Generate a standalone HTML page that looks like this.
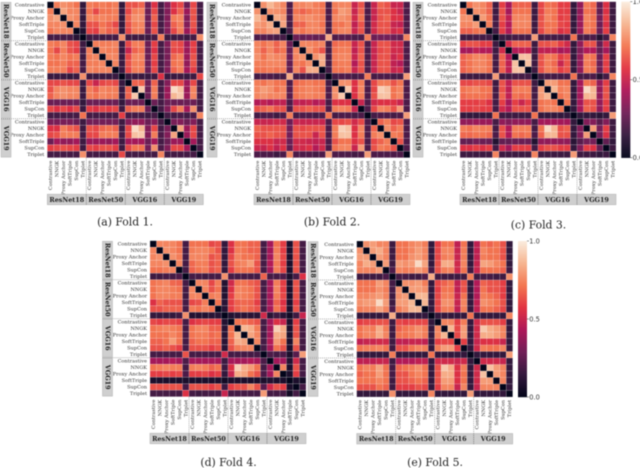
<!DOCTYPE html>
<html>
<head>
<meta charset="utf-8">
<style>
html,body{margin:0;padding:0;background:#fff;width:640px;height:468px;overflow:hidden}
svg{display:block;filter:blur(.4px)}
text{font-family:"DejaVu Serif","Liberation Serif",serif}
</style>
</head>
<body>
<svg id="chart" width="640" height="468" viewBox="0 0 640 468" xmlns="http://www.w3.org/2000/svg"></svg>
<script>
const lossNames = ["Contrastive","NNGK","Proxy Anchor","SoftTriple","SupCon","Triplet"];
const modelNames = ["ResNet18","ResNet50","VGG16","VGG19"];
const captions = ["(a) Fold 1.","(b) Fold 2.","(c) Fold 3.","(d) Fold 4.","(e) Fold 5."];
const colorbarTicks = [0,0.5,1];

const fold1Values = [
[0,70,75,72,68,15,70,68,70,68,70,15,62,62,65,30,55,20,35,55,60,30,60,20],
[70,0,80,72,72,17,68,60,68,68,70,17,60,70,72,30,60,20,35,55,65,40,62,20],
[75,80,0,75,72,15,72,70,72,70,70,15,65,75,75,30,65,20,35,70,72,35,62,20],
[72,72,75,0,72,15,62,62,68,65,60,15,62,70,72,30,60,20,35,65,70,35,62,20],
[68,72,72,72,0,10,60,58,70,65,65,15,60,70,70,30,62,20,35,60,70,40,58,20],
[20,20,20,20,12,0,18,20,18,20,20,75,18,18,18,18,20,70,18,18,20,18,20,75],
[70,68,72,62,60,18,0,70,70,70,72,17,60,70,70,30,58,20,35,62,60,40,58,20],
[68,60,70,62,58,20,70,0,72,70,70,17,50,65,68,30,55,20,33,60,60,40,58,20],
[70,68,72,68,70,18,70,72,0,72,72,17,60,72,72,30,60,20,33,66,70,40,62,20],
[68,68,70,65,65,20,70,70,72,0,72,17,62,70,70,30,58,20,33,68,70,38,62,20],
[70,70,70,60,65,20,72,70,72,72,0,17,60,70,70,30,60,20,35,65,70,42,58,20],
[17,17,17,15,17,75,17,17,17,17,17,0,17,17,17,17,18,55,17,17,18,17,18,60],
[60,60,62,60,60,17,60,50,60,62,60,17,0,65,65,30,65,20,35,60,60,40,60,20],
[62,72,75,72,72,17,70,65,72,70,70,17,65,0,90,30,70,20,40,95,88,40,72,20],
[65,72,75,72,72,17,70,68,72,70,70,17,65,90,0,30,70,20,40,85,90,40,72,20],
[30,30,30,30,30,15,30,30,30,30,30,15,30,30,30,0,30,20,30,30,30,30,30,20],
[60,55,60,55,60,17,58,55,60,58,60,18,65,70,70,30,0,20,35,60,70,42,75,20],
[20,20,20,20,20,68,20,20,20,20,20,58,20,20,20,18,20,0,20,20,22,20,22,72],
[33,33,33,33,30,18,32,32,32,32,32,18,35,38,38,30,35,20,0,33,35,30,35,20],
[55,55,70,65,62,18,62,60,66,68,65,18,60,95,85,35,60,20,33,0,80,40,60,20],
[60,62,70,70,70,20,60,60,70,70,70,20,60,88,90,35,70,22,35,80,0,40,60,20],
[30,42,38,38,42,18,40,40,40,38,42,18,42,42,42,30,42,20,30,40,40,0,42,20],
[58,60,62,60,58,18,60,58,62,62,58,18,60,68,68,32,75,22,35,60,60,42,0,20],
[20,20,20,20,20,75,20,20,20,20,20,60,20,20,20,20,20,72,20,20,20,20,20,0]
];
const fold2Values = [
[0,75,85,78,72,22,72,72,75,70,68,20,70,72,72,50,62,22,50,65,62,50,50,22],
[75,0,75,75,72,24,68,65,68,70,68,22,68,78,75,50,65,22,50,62,62,55,50,22],
[85,75,0,82,78,22,72,72,75,72,70,22,72,75,72,52,68,22,50,62,65,55,55,22],
[78,75,82,0,80,20,65,65,72,72,68,20,68,68,72,48,62,22,52,62,62,50,48,22],
[72,72,78,80,0,20,72,68,72,72,70,20,68,72,72,50,62,22,52,62,62,52,55,22],
[22,24,22,20,20,0,30,28,30,28,28,82,22,25,25,22,22,70,30,32,32,30,28,72],
[72,68,72,65,72,30,0,72,72,70,72,20,66,68,68,50,62,22,50,62,62,52,52,22],
[72,65,72,65,68,28,72,0,75,68,62,20,68,70,70,48,62,22,50,60,62,52,52,22],
[75,68,75,72,72,30,72,75,0,75,82,20,70,72,72,50,65,22,50,62,62,50,55,22],
[70,70,72,72,72,28,70,68,75,0,82,20,68,70,70,45,62,22,50,62,62,48,45,22],
[68,68,70,68,70,28,72,62,82,82,0,20,68,68,70,50,62,22,50,62,62,50,52,22],
[20,22,22,20,20,82,20,20,20,20,20,0,20,22,22,20,22,70,20,22,22,20,20,78],
[70,68,72,68,68,22,66,68,70,68,68,20,0,75,75,55,70,22,60,70,70,62,68,22],
[72,78,75,68,72,25,68,70,72,70,68,22,75,0,90,55,72,22,60,92,88,68,72,22],
[72,75,72,72,72,25,68,70,72,70,70,22,75,90,0,55,70,22,62,88,88,68,72,22],
[45,48,45,48,48,22,48,48,50,45,48,20,55,55,55,0,50,22,52,55,55,55,50,22],
[62,65,68,62,62,22,62,62,65,62,62,22,70,72,70,50,0,22,60,72,70,62,78,22],
[20,22,22,18,22,70,20,22,22,20,22,68,20,22,22,20,22,0,20,22,22,20,22,78],
[50,50,50,52,52,30,50,50,50,50,50,22,60,60,62,52,60,22,0,65,70,60,62,22],
[65,62,62,62,62,32,62,60,62,62,62,22,70,92,88,55,72,22,65,0,75,65,70,22],
[62,62,65,62,62,32,62,62,62,50,62,22,70,88,88,55,70,22,70,75,0,70,68,22],
[55,55,55,50,52,30,52,52,50,48,50,22,62,68,68,55,62,22,60,65,70,0,62,22],
[50,50,55,48,55,28,52,52,55,45,52,22,68,72,72,50,78,22,62,70,68,62,0,22],
[22,22,22,18,22,72,22,22,22,20,22,78,22,22,22,20,22,78,22,22,22,22,22,0]
];
const fold3Values = [
[0,68,75,72,65,18,58,42,65,65,65,18,60,68,66,58,58,15,38,70,66,28,55,18],
[68,0,75,72,65,18,62,42,68,68,68,18,60,70,68,58,58,15,38,68,66,28,55,18],
[75,75,0,78,68,20,62,48,72,72,72,18,62,72,68,58,60,15,40,72,68,32,58,18],
[72,72,78,0,70,20,58,45,72,72,72,18,62,68,68,60,58,15,40,70,68,30,55,18],
[65,65,68,70,0,20,58,45,68,68,68,18,60,68,66,55,58,15,40,70,66,30,58,18],
[18,18,20,20,20,0,18,18,20,20,20,78,18,20,20,20,20,68,20,20,22,10,20,72],
[58,62,62,58,58,18,0,52,65,65,65,18,62,62,65,58,52,15,38,62,62,28,52,18],
[42,42,48,45,45,18,52,0,45,48,48,18,48,48,48,42,45,15,35,45,45,28,42,18],
[65,68,72,72,68,20,65,45,0,88,88,18,62,70,68,58,62,15,38,70,68,30,58,18],
[65,68,72,72,68,20,65,48,88,0,88,18,62,70,66,50,62,15,38,70,66,30,58,18],
[65,68,72,72,68,20,65,48,88,88,0,18,62,70,68,58,62,15,38,70,68,30,58,18],
[18,18,18,18,18,78,18,18,20,20,20,0,18,20,20,20,20,68,20,20,22,10,20,72],
[60,60,62,62,60,18,62,48,62,62,62,18,0,78,78,68,68,15,42,68,65,38,58,18],
[68,70,72,68,68,20,62,48,70,70,70,20,78,0,85,70,72,15,42,95,85,38,62,18],
[66,68,68,68,66,20,65,48,68,66,68,20,78,85,0,68,72,15,42,85,85,38,62,18],
[58,58,58,60,55,20,58,42,58,50,58,20,68,70,68,0,68,15,42,62,62,38,58,18],
[58,58,60,58,58,20,52,45,62,62,62,20,68,72,72,68,0,15,42,65,62,38,58,18],
[15,15,15,15,15,68,18,18,18,18,18,68,15,15,15,15,15,0,15,15,15,12,15,78],
[38,38,40,40,40,20,38,35,38,38,38,20,42,42,42,42,42,15,0,35,35,25,35,18],
[70,68,72,70,70,20,62,45,70,70,70,20,68,95,85,62,65,15,35,0,78,32,58,18],
[66,66,68,68,66,22,62,45,68,66,68,22,65,85,85,62,62,15,35,78,0,32,55,18],
[28,28,32,30,30,10,28,28,30,30,30,10,38,38,38,38,38,12,25,32,32,0,28,15],
[55,55,58,55,58,20,52,42,58,58,58,20,58,62,62,58,58,15,35,58,55,28,0,18],
[18,18,18,18,18,72,18,18,18,18,18,72,18,18,18,18,18,78,18,18,18,15,18,0]
];
const fold4Values = [
[0,72,72,72,68,20,68,68,68,60,62,15,55,68,68,65,65,20,42,68,58,8,62,20],
[72,0,75,72,68,20,70,72,72,68,62,15,55,70,68,65,65,20,42,70,58,8,62,20],
[72,75,0,75,70,20,72,72,72,62,65,15,60,72,68,68,65,20,42,72,60,8,62,20],
[72,72,75,0,72,20,66,70,70,62,65,15,62,70,72,78,62,20,45,70,58,8,62,20],
[68,68,70,72,0,20,65,68,70,62,65,15,58,68,68,68,62,20,42,70,60,8,62,20],
[18,18,20,20,22,0,20,20,18,20,20,75,20,20,20,20,20,65,20,20,22,8,20,55],
[68,70,72,66,65,20,0,72,72,60,70,10,52,68,68,65,62,20,42,70,58,8,62,20],
[68,72,72,70,68,20,72,0,72,62,68,10,55,72,70,68,62,20,42,72,58,8,62,20],
[68,72,72,70,70,18,72,72,0,70,72,10,58,72,70,68,62,20,42,70,60,8,62,20],
[55,65,62,62,62,20,60,62,70,0,68,12,58,65,66,65,58,20,42,65,55,8,58,20],
[62,62,65,65,65,20,70,68,72,68,0,12,58,65,68,65,62,20,42,68,58,8,62,20],
[15,15,15,15,18,75,10,10,10,12,12,0,10,12,12,12,12,52,12,18,12,5,18,50],
[60,58,60,60,58,20,55,58,60,58,58,10,0,68,68,65,62,20,42,55,50,8,58,20],
[68,70,72,70,68,20,68,72,72,65,65,12,68,0,85,82,70,20,42,92,82,8,62,20],
[68,68,68,72,68,20,68,70,70,66,68,12,68,85,0,80,72,20,42,82,80,8,62,20],
[65,65,68,78,68,20,65,68,68,65,65,12,65,82,80,0,72,20,45,78,68,8,72,20],
[62,62,65,62,58,20,62,62,62,58,62,12,62,70,72,72,0,20,42,68,62,8,62,20],
[20,20,20,20,20,62,20,20,20,20,20,52,20,20,20,20,20,0,22,20,22,8,25,78],
[42,42,42,45,42,22,42,42,42,42,42,18,42,42,42,45,42,22,0,42,42,10,52,20],
[68,70,72,70,70,20,70,72,70,65,68,18,55,92,82,78,68,20,42,0,72,8,62,20],
[58,58,60,58,60,22,58,58,60,55,58,15,50,82,80,68,62,22,42,72,0,8,58,20],
[8,8,8,8,8,8,8,8,8,8,8,5,8,8,8,8,8,8,10,8,8,0,8,5],
[62,62,62,62,62,20,62,62,62,58,62,18,58,62,62,72,62,25,52,62,58,8,0,20],
[20,20,20,20,20,55,20,18,20,20,20,50,20,20,20,20,20,78,20,20,20,5,20,0]
];
const fold5Values = [
[0,75,78,72,72,18,68,68,72,75,70,15,58,68,68,48,68,15,48,68,65,68,62,15],
[75,0,78,82,72,18,68,68,72,78,72,15,60,72,72,50,70,15,48,72,68,68,62,15],
[78,78,0,78,72,18,68,68,75,78,72,15,60,70,72,50,70,15,48,70,68,68,62,15],
[72,82,78,0,78,18,78,75,78,95,80,15,62,82,82,52,72,15,50,80,78,72,68,15],
[72,72,72,78,0,22,72,70,72,78,72,20,62,70,72,52,68,18,50,68,68,68,65,18],
[18,18,18,18,22,0,20,20,18,18,22,82,18,18,18,18,18,70,18,20,20,18,18,75],
[68,68,68,78,72,20,0,75,75,78,70,15,60,65,68,48,62,15,45,65,62,62,58,15],
[68,68,68,75,70,20,75,0,78,78,75,15,58,68,68,48,62,15,45,68,62,62,58,15],
[72,72,75,78,72,18,75,78,0,85,85,15,60,70,70,50,68,15,45,70,68,65,58,15],
[75,78,78,95,78,18,78,78,85,0,85,15,60,75,75,50,72,15,48,75,72,68,62,15],
[70,72,72,80,72,22,70,75,85,85,0,15,60,70,70,48,70,15,48,68,68,65,60,15],
[15,15,15,15,15,82,15,15,15,15,15,0,15,15,15,15,15,68,15,15,15,15,15,72],
[58,60,60,62,62,18,60,58,60,60,60,15,0,72,72,58,70,15,52,62,62,62,58,15],
[68,72,70,82,70,18,65,68,70,75,70,15,72,0,85,60,78,15,52,90,82,78,72,15],
[68,72,72,82,72,18,68,68,70,75,70,15,72,85,0,60,78,15,52,82,82,78,72,15],
[48,50,50,52,52,18,48,48,50,50,48,15,58,60,60,0,58,15,50,55,55,55,50,15],
[68,70,70,72,68,18,62,62,68,72,70,15,70,78,78,58,0,15,52,70,68,68,72,15],
[15,15,15,15,15,70,15,15,15,15,15,68,15,15,15,15,15,0,15,15,15,15,15,78],
[48,48,48,50,50,18,45,45,45,48,48,15,52,52,52,50,52,15,0,52,52,52,50,15],
[68,72,70,80,68,20,65,68,70,75,68,15,62,90,82,55,70,15,52,0,88,78,72,15],
[65,68,68,78,68,20,62,62,68,72,68,15,62,82,82,55,68,15,52,88,0,78,72,15],
[68,68,68,72,68,18,62,62,65,68,65,15,62,78,78,55,68,15,52,78,78,0,72,15],
[62,62,62,68,65,18,58,58,58,62,60,15,58,72,72,50,72,15,50,72,72,72,0,15],
[15,15,15,15,15,75,15,15,15,15,15,72,15,15,15,15,15,78,15,15,15,15,15,0]
];

const foldValues = [fold1Values, fold2Values, fold3Values, fold4Values, fold5Values];
const panels = [
  {x:47.3,y:1.7,boxX:1,capX:125,capY:225.5,bar:false},
  {x:254,y:1.7,boxX:207,capX:332,capY:225.5,bar:false},
  {x:460,y:1.7,boxX:413,capX:538.5,capY:228.5,bar:true},
  {x:150,y:240.7,boxX:102.5,capX:228.5,capY:466,bar:false},
  {x:356.7,y:241,boxX:308,capX:435,capY:466,bar:true}
];
const SIZE = 156;
const NS = "http://www.w3.org/2000/svg";
const svg = document.getElementById("chart");
const stops = ["#03051a","#35193e","#701f57","#ad1759","#e13342","#f37651","#f6b48f","#faebdd"];

function rocket(v){
  const t = Math.max(0, Math.min(1, v)) * (stops.length - 1);
  const i = Math.min(stops.length - 2, Math.floor(t));
  const f = t - i;
  const a = parseInt(stops[i].slice(1), 16), b = parseInt(stops[i + 1].slice(1), 16);
  const mix = s => Math.round(((a >> s) & 255) * (1 - f) + ((b >> s) & 255) * f);
  return "rgb(" + mix(16) + "," + mix(8) + "," + mix(0) + ")";
}
function mk(tag, attrs, parent, txt){
  const el = document.createElementNS(NS, tag);
  for (const k in attrs) el.setAttribute(k, attrs[k]);
  if (txt !== undefined) el.textContent = txt;
  parent.appendChild(el);
  return el;
}
function xScale(p, i){ return p.x + i * SIZE / 24; }
function yScale(p, i){ return p.y + i * SIZE / 24; }
/* calibration of the estimated readings: keeps dark cells darker, mid cells more orange */
function valueScale(n){
  const v = n / 100;
  if (v <= 0.3) return v * 0.9;
  if (v <= 0.7) return 0.27 + (v - 0.3) * 1.15;
  return 0.73 + (v - 0.7) * 0.9;
}

panels.forEach((p, f) => {
  const g = mk("g", {}, svg);
  
  
  const matrix = foldValues[f];
  const cell = SIZE / 24;

  matrix.forEach((row, r) => {
    row.forEach((v, c) => {
      const rect = mk("rect", {x:xScale(p, c), y:yScale(p, r), width:cell, height:cell, fill:rocket(valueScale(v)), stroke:"#fff", "stroke-opacity":0.4, "stroke-width":0.4}, g);
      
      
    });
  });

  for (let i = 0; i < 24; i++) {
    const name = lossNames[i % 6];
    const yl = mk("text", {x:p.x - 3, y:yScale(p, i) + cell / 2 + 1.7, "text-anchor":"end", "font-size":5, fill:"#333"}, g, name);
    
    
    const tx = xScale(p, i) + cell / 2 + 1.7;
    const ty = p.y + SIZE + 3;
    const xl = mk("text", {x:tx, y:ty, transform:"rotate(-90 " + tx + " " + ty + ")", "text-anchor":"end", "font-size":5, fill:"#333"}, g, name);
    
    
  }

  modelNames.forEach((m, i) => {
    const by = p.y + i * 39;
    const lb = mk("rect", {x:p.boxX, y:by + 0.6, width:10, height:37.8, fill:"#cfcfcf", stroke:"#b0b0b0", "stroke-width":0.5}, g);
    
    
    const cx = p.boxX + 5, cy = by + 19.5;
    const lt = mk("text", {x:cx, y:cy, transform:"rotate(90 " + cx + " " + cy + ")", "text-anchor":"middle", "dominant-baseline":"central", "font-size":6.4, "font-weight":"bold", fill:"#222"}, g, m);
    
    
    const bx = p.x + i * 39;
    const bb = mk("rect", {x:bx, y:p.y + SIZE + 36.5, width:39, height:10.5, fill:"#cfcfcf", stroke:"#b0b0b0", "stroke-width":0.5}, g);
    
    
    const bt = mk("text", {x:bx + 19.5, y:p.y + SIZE + 44.2, "text-anchor":"middle", "font-size":6.4, "font-weight":"bold", fill:"#222"}, g, m);
    
    
    if (i > 0) {
      const d1 = mk("line", {x1:bx, x2:bx, y1:p.y + SIZE, y2:p.y + SIZE + 47, stroke:"#666", "stroke-width":0.5, "stroke-dasharray":"1 1"}, g);
      
      
      const d2 = mk("line", {x1:p.boxX, x2:p.x, y1:by, y2:by, stroke:"#666", "stroke-width":0.5, "stroke-dasharray":"1 1"}, g);
      
      
    }
  });

  const cap = mk("text", {x:p.capX, y:p.capY, "text-anchor":"middle", "font-size":10.8, fill:"#222"}, g, captions[f]);
  
  

  if (p.bar) {
    const bx = p.x + SIZE + 5.3, bw = 9;
    for (let i = 0; i < 156; i++) {
      const seg = mk("rect", {x:bx, y:p.y + i, width:bw, height:1.2, fill:rocket(1 - i / 155)}, g);
      
      
    }
    colorbarTicks.forEach(t => {
      const ty = p.y + SIZE * (1 - t);
      const tick = mk("line", {x1:bx + bw, x2:bx + bw + 2, y1:ty, y2:ty, stroke:"#333", "stroke-width":0.5}, g);
      
      
      const lab = mk("text", {x:bx + bw + 2.3, y:ty + 2.4, "font-size":6.6, fill:"#333", style:'font-family:"DejaVu Sans",sans-serif'}, g, t.toFixed(1));
      
      
    });
  }
});
</script>
</body>
</html>
